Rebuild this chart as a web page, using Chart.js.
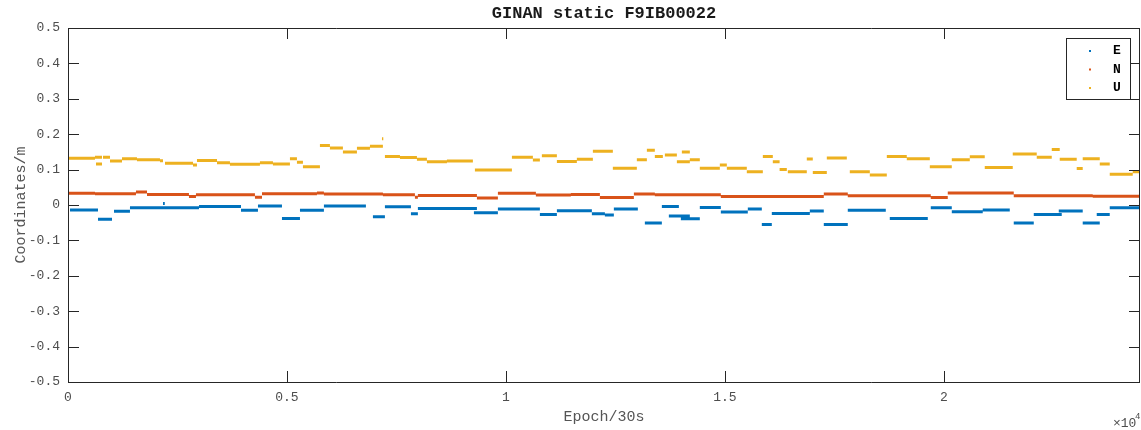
<!DOCTYPE html>
<html>
<head>
<meta charset="utf-8">
<script src="https://cdn.jsdelivr.net/npm/chart.js@4.4.1/dist/chart.umd.min.js"></script>
<style>
  html, body { margin: 0; padding: 0; background: #fff; }
  #wrap { width: 1141px; height: 430px; }
</style>
</head>
<body>
<div id="wrap"><canvas id="enuChart" width="1141" height="430"></canvas></div>
<script>
// step segments: start epoch, end epoch, value (m)
const eStart = [46, 685, 1050, 1415, 2170, 2192, 2991, 3950, 4338, 4886, 5297, 5844, 6963, 7237, 7831, 7990, 9269, 9817, 10776, 11164, 11963, 12260, 12465, 13173, 13561, 13721, 13995, 14428, 14908, 15524, 15844, 16072, 16940, 17259, 17807, 18766, 19702, 20182, 20889, 21597, 22054, 22625, 23172, 23492, 23789];
const eEnd   = [685, 1005, 1415, 2192, 2210, 2991, 3950, 4338, 4886, 5297, 5844, 6803, 7237, 7831, 7990, 9338, 9817, 10776, 11164, 11963, 12260, 12465, 13013, 13561, 13950, 14200, 14428, 14908, 15524, 15844, 16072, 16940, 17259, 17807, 18675, 19634, 20182, 20889, 21506, 22054, 22693, 23172, 23561, 23789, 24480];
const eVal   = [-0.014, -0.040, -0.018, -0.008, 0.004, -0.008, -0.004, -0.015, -0.003, -0.038, -0.015, -0.003, -0.033, -0.005, -0.025, -0.010, -0.022, -0.011, -0.027, -0.016, -0.025, -0.028, -0.011, -0.051, -0.004, -0.031, -0.039, -0.007, -0.020, -0.011, -0.055, -0.024, -0.017, -0.055, -0.015, -0.038, -0.008, -0.019, -0.014, -0.051, -0.027, -0.017, -0.051, -0.027, -0.008];

const nStart = [0, 616, 1552, 1804, 2762, 2922, 4269, 4430, 5685, 5844, 7191, 7922, 7990, 9338, 9817, 10684, 11483, 12146, 12922, 13401, 14908, 17259, 17807, 19702, 20090, 21597, 23401];
const nEnd   = [616, 1552, 1804, 2762, 2922, 4269, 4430, 5685, 5844, 7191, 7922, 7990, 9338, 9817, 10684, 11483, 12146, 12922, 13401, 14908, 17259, 17807, 19702, 20090, 21597, 23401, 24480];
const nVal   = [0.033, 0.032, 0.037, 0.030, 0.024, 0.029, 0.022, 0.032, 0.034, 0.031, 0.029, 0.022, 0.027, 0.020, 0.033, 0.028, 0.030, 0.021, 0.031, 0.029, 0.024, 0.031, 0.026, 0.021, 0.034, 0.026, 0.025];

const uStart = [0, 616, 639, 799, 959, 1233, 1575, 2100, 2215, 2854, 2945, 3402, 3698, 4383, 4680, 5068, 5228, 5365, 5753, 5981, 6278, 6598, 6895, 7170, 7237, 7580, 7968, 8196, 8653, 9292, 10137, 10616, 10821, 11164, 11620, 11986, 12442, 12990, 13219, 13401, 13630, 13904, 14018, 14200, 14428, 14885, 15045, 15501, 15867, 16095, 16250, 16438, 16871, 17008, 17328, 17853, 18310, 18698, 19154, 19680, 20182, 20593, 20935, 21574, 22122, 22465, 22647, 23035, 23172, 23561, 23789, 24314];
const uEnd   = [616, 776, 776, 959, 1233, 1575, 2100, 2169, 2854, 2945, 3402, 3698, 4383, 4680, 5068, 5228, 5365, 5753, 5981, 6278, 6598, 6895, 7191, 7200, 7580, 7968, 8196, 8653, 9246, 10137, 10616, 10776, 11164, 11620, 11986, 12442, 12990, 13219, 13401, 13584, 13904, 14200, 14200, 14428, 14885, 15045, 15501, 15867, 16095, 16250, 16415, 16871, 17008, 17328, 17785, 18310, 18698, 19154, 19680, 20182, 20593, 20935, 21574, 22122, 22465, 22647, 23035, 23172, 23561, 23789, 24314, 24480];
const uVal   = [0.132, 0.135, 0.116, 0.135, 0.124, 0.131, 0.128, 0.125, 0.118, 0.113, 0.126, 0.119, 0.115, 0.119, 0.116, 0.131, 0.121, 0.108, 0.168, 0.161, 0.150, 0.160, 0.166, 0.187, 0.137, 0.134, 0.129, 0.122, 0.124, 0.099, 0.135, 0.127, 0.139, 0.123, 0.129, 0.152, 0.104, 0.128, 0.155, 0.137, 0.141, 0.122, 0.150, 0.128, 0.104, 0.113, 0.104, 0.094, 0.137, 0.122, 0.100, 0.094, 0.130, 0.092, 0.133, 0.094, 0.085, 0.137, 0.131, 0.108, 0.128, 0.136, 0.106, 0.144, 0.135, 0.157, 0.129, 0.103, 0.131, 0.116, 0.087, 0.094];

const xTicks = [0, 5000, 10000, 15000, 20000];
const seriesNames = ['E', 'N', 'U'];
const seriesColors = ['#0072BD', '#D95319', '#EDB120'];

// turn segments into line pieces separated by gaps
function stepPoints(starts, ends, vals) {
    const pts = [];
    for (let i = 0; i < starts.length; i++) {
        pts.push({x: starts[i], y: vals[i]});
        pts.push({x: ends[i], y: vals[i]});
        pts.push({x: ends[i], y: null});
    }
    return pts;
}

const mono = '"Liberation Mono", "DejaVu Sans Mono", monospace';
const axisColor = '#262626';

const matlabBox = {
    id: 'matlabBox',
    afterDatasetsDraw(chart) {
        const ctx = chart.ctx;
        const a = chart.chartArea;
        const xs = chart.scales.x, ys = chart.scales.y;
        const tl = 11;
        ctx.save();
        ctx.strokeStyle = axisColor;
        ctx.lineWidth = 1;
        ctx.beginPath();
        ctx.rect(a.left + 0.5, a.top + 0.5, a.right - a.left - 1, a.bottom - a.top);
        xTicks.forEach(v => {
            const px = Math.round(xs.getPixelForValue(v)) + 0.5;
            ctx.moveTo(px, a.bottom); ctx.lineTo(px, a.bottom - tl);
            ctx.moveTo(px, a.top); ctx.lineTo(px, a.top + tl);
        });
        ys.ticks.forEach(t => {
            const py = Math.round(ys.getPixelForValue(t.value)) + 0.5;
            ctx.moveTo(a.left, py); ctx.lineTo(a.left + tl, py);
            ctx.moveTo(a.right, py); ctx.lineTo(a.right - tl, py);
        });
        ctx.stroke();

        // legend
        const lx = 1066, ly = 38, lw = 64, lh = 61;
        ctx.fillStyle = '#fff';
        ctx.fillRect(lx, ly, lw, lh);
        ctx.strokeRect(lx + 0.5, ly + 0.5, lw, lh);
        ctx.font = 'bold 13px ' + mono;
        ctx.textAlign = 'center';
        ctx.textBaseline = 'middle';
        seriesNames.forEach((n, i) => {
            const yy = ly + 13 + i * 18.5;
            ctx.fillStyle = seriesColors[i];
            ctx.fillRect(lx + 23, yy - 1, 2, 2);
            ctx.fillStyle = '#000';
            ctx.fillText(n, lx + 51, yy);
        });

        // titles
        ctx.fillStyle = '#1a1a1a';
        ctx.font = 'bold 17px ' + mono;
        ctx.fillText('GINAN static F9IB00022', (a.left + a.right) / 2, 14);
        ctx.fillStyle = '#555';
        ctx.font = '15px ' + mono;
        ctx.fillText('Epoch/30s', (a.left + a.right) / 2, 417);
        ctx.save();
        ctx.translate(21, (a.top + a.bottom) / 2);
        ctx.rotate(-Math.PI / 2);
        ctx.fillText('Coordinates/m', 0, 0);
        ctx.restore();
        ctx.fillStyle = '#4d4d4d';
        ctx.font = '13px ' + mono;
        ctx.textAlign = 'left';
        ctx.fillText('\u00d710', 1113, 424);
        ctx.font = '9px ' + mono;
        ctx.fillText('4', 1135, 417);
        ctx.restore();
    }
};

new Chart(document.getElementById('enuChart').getContext('2d'), {
    type: 'scatter',
    data: {
        datasets: [
            {label: 'E', data: stepPoints(eStart, eEnd, eVal)},
            {label: 'N', data: stepPoints(nStart, nEnd, nVal)},
            {label: 'U', data: stepPoints(uStart, uEnd, uVal)}
        ].map((d, i) => Object.assign(d, {
            showLine: true,
            borderColor: seriesColors[i],
            backgroundColor: seriesColors[i],
            borderWidth: 3,
            pointRadius: 0,
            spanGaps: false
        }))
    },
    options: {
        responsive: false,
        animation: false,
        layout: {padding: {top: 28, right: 1, left: 0, bottom: 0}},
        plugins: {legend: {display: false}, tooltip: {enabled: false}, title: {display: false}},
        scales: {
            x: {
                type: 'linear',
                min: 0,
                max: 24480,
                grid: {display: false, drawTicks: false},
                border: {display: false},
                afterFit: s => { s.height = 48; },
                afterBuildTicks: s => { s.ticks = xTicks.map(v => ({value: v})); },
                ticks: {
                    padding: 8,
                    color: '#4d4d4d',
                    font: {family: mono, size: 13},
                    maxRotation: 0,
                    callback: v => String(v / 10000)
                }
            },
            y: {
                min: -0.5,
                max: 0.5,
                grid: {display: false, drawTicks: false},
                border: {display: false},
                afterFit: s => { s.width = 68; },
                ticks: {
                    stepSize: 0.1,
                    padding: 8,
                    color: '#4d4d4d',
                    font: {family: mono, size: 13},
                    callback: v => String(Math.round(v * 10) / 10)
                }
            }
        }
    },
    plugins: [matlabBox]
});
</script>
</body>
</html>
